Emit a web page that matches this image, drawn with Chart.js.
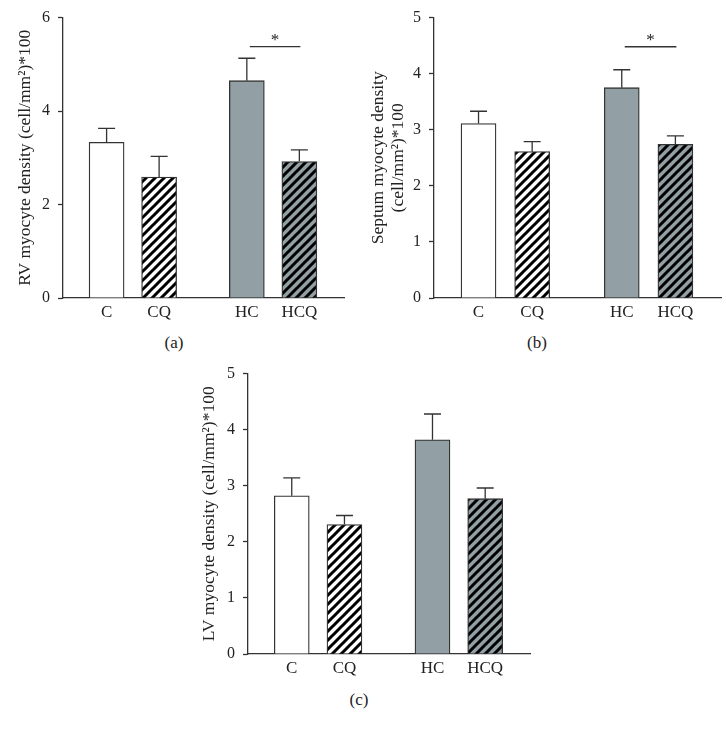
<!DOCTYPE html>
<html>
<head>
<meta charset="utf-8">
<script src="https://cdn.jsdelivr.net/npm/chart.js@4.4.1/dist/chart.umd.min.js"></script>
<style>
    body { margin: 0; background: #fff; width: 726px; height: 731px; position: relative; overflow: hidden; font-family: "Liberation Serif", serif; }
    canvas { position: absolute; }
    .caption { position: absolute; font-size: 17px; color: #222; transform: translate(-50%, -50%); }
</style>
</head>
<body>
<canvas id="rvChart" width="360" height="322" style="left:0;top:0"></canvas>
<canvas id="septumChart" width="363" height="322" style="left:363px;top:0"></canvas>
<canvas id="lvChart" width="360" height="322" style="left:180px;top:356px"></canvas>
<div class="caption" style="left:174px;top:343px">(a)</div>
<div class="caption" style="left:537px;top:343px">(b)</div>
<div class="caption" style="left:359px;top:700px">(c)</div>

<script>
// 1. Data (mean and upper SEM arm)
const groups = ['C', 'CQ', 'HC', 'HCQ'];

const rvMean = [3.33, 2.59, 4.65, 2.92];
const rvErr = [0.30, 0.44, 0.48, 0.25];

const septumMean = [3.11, 2.61, 3.75, 2.74];
const septumErr = [0.22, 0.18, 0.32, 0.15];

const lvMean = [2.82, 2.31, 3.82, 2.77];
const lvErr = [0.32, 0.16, 0.46, 0.19];

// significance bars: [from group, to group, height]
const rvSig = [[2, 3, 5.38]];
const septumSig = [[2, 3, 4.48]];
const lvSig = [];

// 2. Layout: bar slots on a linear x axis (wider gap between C/CQ and HC/HCQ)
const slots = [0.83, 1.83, 3.5, 4.5];
const xMax = 5.35;
const ink = '#333';
const gray = '#929fa4';
const fontFamily = '"Liberation Serif", serif';

function stripes(bg) {
    const c = document.createElement('canvas');
    c.width = 9; c.height = 9;
    const g = c.getContext('2d');
    g.fillStyle = bg;
    g.fillRect(0, 0, 9, 9);
    g.strokeStyle = '#000';
    g.lineWidth = 3;
    g.beginPath();
    g.moveTo(-1, 10); g.lineTo(10, -1);
    g.moveTo(-5, 5); g.lineTo(5, -5);
    g.moveTo(4, 14); g.lineTo(14, 4);
    g.stroke();
    return g.createPattern(c, 'repeat');
}

const fills = ['#ffffff', stripes('#ffffff'), gray, stripes(gray)];

// 3. Error bars + significance marks
const extrasPlugin = {
    id: 'extras',
    afterDatasetsDraw(chart, args, opts) {
        const { ctx, scales: { x, y } } = chart;
        ctx.save();
        ctx.strokeStyle = ink;
        ctx.lineWidth = 1.3;
        opts.mean.forEach((m, i) => {
            const px = x.getPixelForValue(slots[i]);
            const top = y.getPixelForValue(m + opts.err[i]);
            ctx.beginPath();
            ctx.moveTo(px, y.getPixelForValue(m));
            ctx.lineTo(px, top);
            ctx.moveTo(px - 8.5, top);
            ctx.lineTo(px + 8.5, top);
            ctx.stroke();
        });
        opts.sig.forEach(([a, b, h]) => {
            const x1 = x.getPixelForValue(slots[a]) + 3;
            const x2 = x.getPixelForValue(slots[b]) + 1;
            const py = y.getPixelForValue(h);
            ctx.beginPath();
            ctx.moveTo(x1, py);
            ctx.lineTo(x2, py);
            ctx.stroke();
            ctx.fillStyle = '#222';
            ctx.font = '17px ' + fontFamily;
            ctx.textAlign = 'center';
            ctx.textBaseline = 'middle';
            ctx.fillText('*', (x1 + x2) / 2, py - 6);
        });
        ctx.restore();
    }
};

Chart.defaults.color = '#222';
Chart.defaults.font.family = fontFamily;

function makeChart(id, mean, err, sig, yMax, step, title, yWidth, titlePad, titleLH, pad) {
    return new Chart(document.getElementById(id), {
        type: 'bar',
        data: {
            datasets: [{
                data: mean.map((v, i) => ({ x: slots[i], y: v })),
                backgroundColor: fills,
                borderColor: ink,
                borderWidth: 1.3,
                barThickness: 35
            }]
        },
        options: {
            responsive: false,
            animation: false,
            devicePixelRatio: 1,
            layout: { padding: pad },
            plugins: {
                legend: { display: false },
                tooltip: { enabled: false },
                extras: { mean: mean, err: err, sig: sig }
            },
            scales: {
                x: {
                    type: 'linear',
                    min: 0,
                    max: xMax,
                    offset: false,
                    afterBuildTicks: s => { s.ticks = slots.map(v => ({ value: v })); },
                    afterFit: s => { s.height = 24; },
                    ticks: { callback: (v, i) => groups[i], font: { size: 17 }, padding: 4, maxRotation: 0, autoSkip: false },
                    grid: { display: true, drawOnChartArea: false, drawTicks: false, offset: false },
                    border: { color: ink, width: 1.3 }
                },
                y: {
                    min: 0,
                    max: yMax,
                    afterFit: s => { s.width = yWidth; },
                    ticks: { stepSize: step, font: { size: 16 }, padding: 8 },
                    grid: { drawOnChartArea: false, tickLength: 5, color: ink, tickWidth: 1.3 },
                    border: { color: ink, width: 1.3 },
                    title: { display: true, text: title, font: { size: 17.5, lineHeight: titleLH }, padding: { top: titlePad, bottom: 0 } }
                }
            }
        },
        plugins: [extrasPlugin]
    });
}

// 4. Panels
const rvChart = makeChart('rvChart', rvMean, rvErr, rvSig, 6, 2,
    'RV myocyte density (cell/mm²)*100', 63, 14.5, 1.2, { left: 0, top: 16, right: 16, bottom: 0 });

const septumChart = makeChart('septumChart', septumMean, septumErr, septumSig, 5, 1,
    ['Septum myocyte density', '(cell/mm²)*100'], 71, 5, 1.143, { left: 0, top: 16, right: 5, bottom: 0 });

const lvChart = makeChart('lvChart', lvMean, lvErr, lvSig, 5, 1,
    'LV myocyte density (cell/mm²)*100', 68, 18.5, 1.2, { left: 0, top: 16, right: 10, bottom: 0 });
</script>
</body>
</html>
